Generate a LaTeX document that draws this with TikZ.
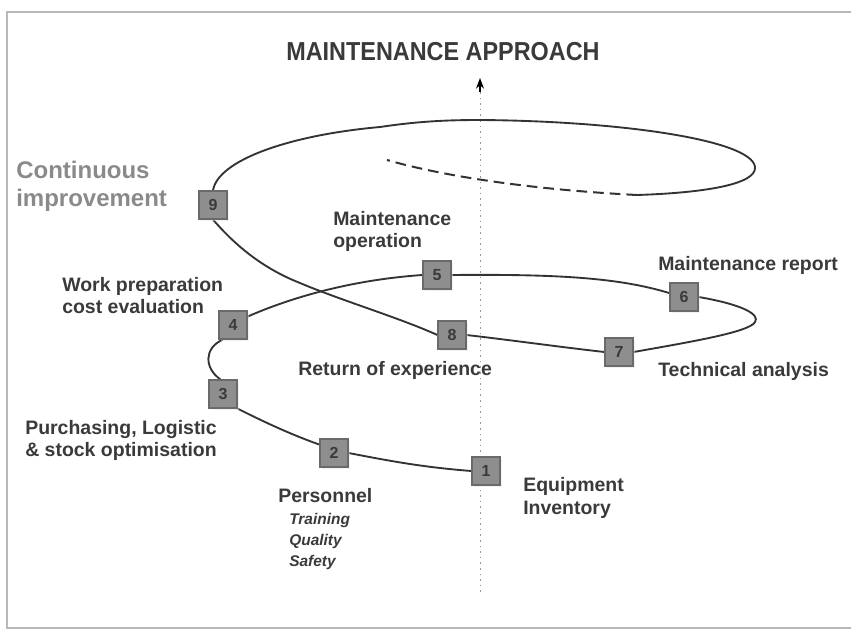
\documentclass[tikz,border=0pt]{standalone}
\usepackage{fontspec}
\usepackage{graphicx}
\setmainfont{Liberation Sans}
\usetikzlibrary{arrows.meta,shadows,backgrounds}
\definecolor{txt}{HTML}{3A3A3A}
\definecolor{cicol}{HTML}{8A8A8A}
\definecolor{boxfill}{HTML}{8E8E8E}
\definecolor{boxline}{HTML}{6A6A6A}
\definecolor{curvecol}{HTML}{333333}
\begin{document}
\begin{tikzpicture}[x=0.75pt,y=-0.75pt,
  numbox/.style={draw=boxline, line width=0.9pt, fill=boxfill, minimum size=21pt, inner sep=0pt,
    font=\bfseries\fontsize{12}{12}\selectfont, text=txt,
    drop shadow={shadow xshift=1.8pt,shadow yshift=-1.8pt,fill=gray!22}},
  lbl/.style={font=\bfseries\fontsize{14.6}{16.5}\selectfont, text=txt, align=left, anchor=west, inner sep=0pt},
  sublbl/.style={font=\bfseries\itshape\fontsize{11.6}{15.75}\selectfont, text=txt, align=left, anchor=west, inner sep=0pt},
  spiral/.style={draw=curvecol, line width=1.4pt},
  spiraldash/.style={draw=curvecol, line width=1.5pt, dash pattern=on 8pt off 4.5pt},
  framecol/.style={draw=gray!55, line width=0.9pt},
  axisline/.style={draw=gray!80, line width=0.7pt, dash pattern=on 1.2pt off 3pt}]

\useasboundingbox (0,0) rectangle (851,632);

% title
\node[text=txt] (title) at (443,52) {\scalebox{0.9}[1]{\fontsize{19.5}{20}\selectfont\bfseries MAINTENANCE APPROACH}};

% numbered boxes
\node[numbox] (n9) at (213,205) {9};
\node[numbox] (n5) at (437,275) {5};
\node[numbox] (n6) at (684,297) {6};
\node[numbox] (n4) at (233,325) {4};
\node[numbox] (n8) at (452,335) {8};
\node[numbox] (n7) at (619,352) {7};
\node[numbox] (n3) at (223,394) {3};
\node[numbox] (n2) at (334,453) {2};
\node[numbox] (n1) at (486,471) {1};

% labels
\node[lbl, font=\bfseries\fontsize{18}{21}\selectfont, text=cicol] (lci) at (16,186) {Continuous\\improvement};
\node[lbl] (lmo) at (333,231) {Maintenance\\operation};
\node[lbl] (lwp) at (62,296) {Work preparation\\cost evaluation};
\node[lbl] (lmr) at (658,265) {Maintenance report};
\node[lbl] (lre) at (298,370) {Return of experience};
\node[lbl] (lta) at (658,371) {Technical analysis};
\node[lbl] (lpu) at (25,440) {Purchasing, Logistic\\\& stock optimisation};
\node[lbl] (lpe) at (278,496) {Personnel};
\node[sublbl] (lsub) at (289,541) {Training\\Quality\\Safety};
\node[lbl, font=\bfseries\fontsize{14.6}{17.2}\selectfont] (leq) at (523,498) {Equipment\\Inventory};

\begin{pgfonlayer}{background}
  % frame
  \coordinate (ftr) at (851,12);
  \coordinate (ftl) at (7,12);
  \coordinate (fbl) at (7,628);
  \coordinate (fbr) at (851,628);
  \draw[framecol] (ftr) -- (ftl) -- (fbl) -- (fbr);

  % axis
  \coordinate (axb) at (480,592);
  \coordinate (axt) at (480,92);
  \coordinate (axtip) at (480,78);
  \draw[axisline] (axb) -- (axt);
  \draw[line width=0.8pt, -{Stealth[length=8pt,width=6pt]}] (axt) -- (axtip);

  % spiral
  \draw[spiral] (n1.west) .. controls (420,467) and (385,460) .. (n2.east);
  \draw[spiral] (n2.150) .. controls (295,436) and (268,424) .. (n3.south east);
  \draw[spiral] (n3.100) .. controls (204,368) and (204,348) .. (n4.235);
  \draw[spiral] (n4.30) .. controls (290,298) and (350,280) .. (n5.west);
  \draw[spiral] (n5.east) .. controls (560,274) and (620,278) .. (n6.165);
  \draw[spiral] (n6.east) .. controls (745,305) and (760,315) .. (755,322)
                .. controls (750,332) and (690,342) .. (n7.east);
  \draw[spiral] (n7.west) .. controls (560,347) and (510,340) .. (n8.east);
  \draw[spiral] (n8.west) .. controls (400,318) and (340,300) .. (300,283)
                .. controls (262,268) and (235,245) .. (n9.south);
  \coordinate (dashstart) at (637,195);
  \coordinate (dashend) at (387,160);
  \draw[spiral] (n9.north) .. controls (218,160) and (290,135) .. (380,127)
                .. controls (420,121) and (450,120) .. (480,120)
                .. controls (620,121) and (752,140) .. (755,167)
                .. controls (757,185) and (700,193) .. (dashstart);
  \draw[spiraldash] (dashstart) .. controls (540,190) and (450,178) .. (dashend);
\end{pgfonlayer}
\end{tikzpicture}
\end{document}
